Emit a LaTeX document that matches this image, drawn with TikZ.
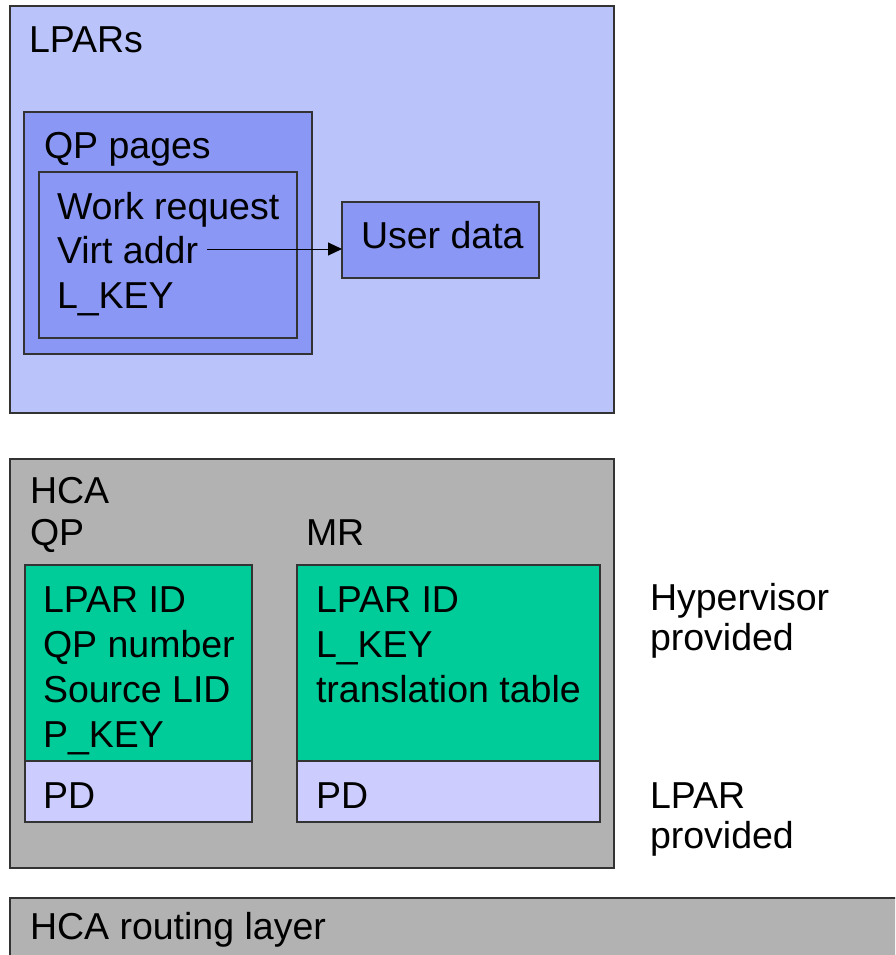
\documentclass[tikz,border=0pt]{standalone}
\usepackage{fontspec}
\setmainfont{Liberation Sans}
\usetikzlibrary{arrows.meta}
\definecolor{lparbg}{HTML}{BAC4FA}
\definecolor{qpbg}{HTML}{8A97F5}
\definecolor{hcabg}{HTML}{B2B2B2}
\definecolor{grn}{HTML}{00CC99}
\definecolor{pdbg}{HTML}{CCCCFF}
\definecolor{edge}{HTML}{333333}
\begin{document}
\begin{tikzpicture}[x=1pt,y=-1pt,
  box/.style={draw=edge, line width=1.2pt, inner sep=0pt, outer sep=0pt, anchor=north west},
  txt/.style={anchor=base west, inner sep=0pt, outer sep=0pt, font=\fontsize{37.5}{44.5}\selectfont},
  conn/.style={draw=black, line width=1pt, -{Triangle[length=14pt,width=13pt]}}]
\useasboundingbox (0,0) rectangle (895,955);
\clip (0,0) rectangle (895,955);
% LPARs area
\node[box, fill=lparbg, minimum width=604pt, minimum height=407pt] (lpars) at (10,6) {};
\node[box, fill=qpbg, minimum width=288pt, minimum height=242pt] (qpp) at (24,112) {};
\node[box, fill=qpbg, minimum width=258pt, minimum height=166pt] (wr) at (39,172) {};
\node[box, fill=qpbg, minimum width=197pt, minimum height=76pt] (ud) at (342,202) {};
\node[txt] (tlpars) at (29,53) {LPARs};
\node[txt] (tqpp) at (44,158) {QP pages};
\node[txt] (twr) at (57,219) {Work request};
\node[txt] (tva) at (57,263) {Virt addr};
\node[txt] (tlk) at (57,308) {L\_KEY};
\node[txt] (tud) at (361,248) {User data};
\coordinate (vastart) at (207,249);
\draw[conn] (vastart) -- (vastart -| ud.west);
% HCA area
\node[box, fill=hcabg, minimum width=604pt, minimum height=409pt] (hca) at (10,459) {};
\node[box, fill=grn, minimum width=227pt, minimum height=196pt] (qpg) at (25,565) {};
\node[box, fill=pdbg, minimum width=227pt, minimum height=61pt] (qppd) at (25,761) {};
\node[box, fill=grn, minimum width=303pt, minimum height=196pt] (mrg) at (297,565) {};
\node[box, fill=pdbg, minimum width=303pt, minimum height=61pt] (mrpd) at (297,761) {};
\node[txt] (thca) at (30,503) {HCA};
\node[txt] (tqp) at (30,545) {QP};
\node[txt] (tmr) at (306,545) {MR};
\node[txt] (q1) at (43,612) {LPAR ID};
\node[txt] (q2) at (43,657) {QP number};
\node[txt] (q3) at (43,702) {Source LID};
\node[txt] (q4) at (43,747) {P\_KEY};
\node[txt] (m1) at (316,612) {LPAR ID};
\node[txt] (m2) at (316,657) {L\_KEY};
\node[txt] (m3) at (316,702) {translation table};
\node[txt] (qpd) at (43,808) {PD};
\node[txt] (mpd) at (316,808) {PD};
\node[txt] (h1) at (650,610) {Hypervisor};
\node[txt] (h2) at (650,650) {provided};
\node[txt] (l1) at (650,808) {LPAR};
\node[txt] (l2) at (650,848) {provided};
% routing layer
\node[box, fill=hcabg, minimum width=900pt, minimum height=80pt] (route) at (10,898) {};
\node[txt] (troute) at (30,939) {HCA routing layer};
\end{tikzpicture}
\end{document}
